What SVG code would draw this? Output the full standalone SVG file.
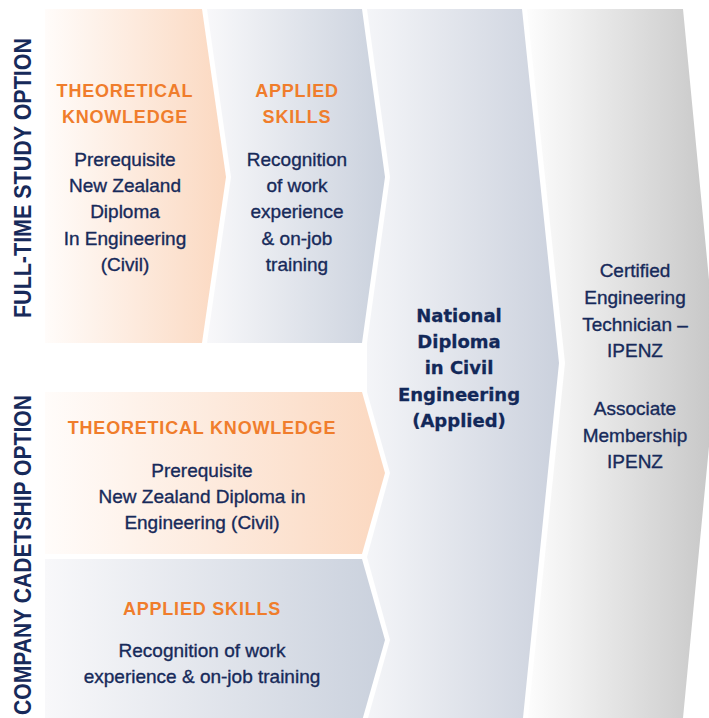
<svg xmlns="http://www.w3.org/2000/svg" width="709" height="718" viewBox="0 0 709 718">
<defs>
<linearGradient id="gOr" x1="0" y1="0" x2="1" y2="0"><stop offset="0" stop-color="#fffcfa"/><stop offset="1" stop-color="#fbd8c0"/></linearGradient>
<linearGradient id="gBl" x1="0" y1="0" x2="1" y2="0"><stop offset="0" stop-color="#f8f8fa"/><stop offset="1" stop-color="#cad1dd"/></linearGradient>
<linearGradient id="gNat" x1="0" y1="0" x2="1" y2="0"><stop offset="0" stop-color="#f4f5f8"/><stop offset="1" stop-color="#cbd1dd"/></linearGradient>
<linearGradient id="gGr" x1="0" y1="0" x2="1" y2="0"><stop offset="0" stop-color="#fdfdfd"/><stop offset="1" stop-color="#c6c6c6"/></linearGradient>
<style>
.h{font-family:"Liberation Sans",Arial,sans-serif;font-weight:bold;font-size:18px;letter-spacing:0.8px;fill:#f07d2c;text-anchor:middle}
.b{font-family:"Liberation Sans",Arial,sans-serif;font-size:19px;fill:#172a5a;stroke:#172a5a;stroke-width:0.35px;text-anchor:middle}
.nat{font-family:"DejaVu Sans",sans-serif;font-weight:bold;font-size:18px;fill:#122859;stroke:#122859;stroke-width:0.3px;text-anchor:middle}
.v{font-family:"Liberation Sans",Arial,sans-serif;font-weight:bold;font-size:24px;fill:#172a5a}
</style>
</defs>
<rect width="709" height="718" fill="#ffffff"/>
<g id="certified">
<polygon points="527,9 683,9 717,363 683,718 528,718 565,363" fill="url(#gGr)"/>
<text class="b"><tspan x="635" y="277">Certified</tspan><tspan x="635" y="304">Engineering</tspan><tspan x="635" y="331">Technician –</tspan><tspan x="635" y="357">IPENZ</tspan><tspan x="635" y="415">Associate</tspan><tspan x="635" y="442">Membership</tspan><tspan x="635" y="468">IPENZ</tspan></text>
</g>
<g id="national">
<polygon points="367,9 522,9 559,363 523,718 368,718 390,640 367,557 390,473 367,392 367,343 390,177" fill="url(#gNat)"/>
<text class="nat"><tspan x="459" y="322">National</tspan><tspan x="459" y="348">Diploma</tspan><tspan x="459" y="374">in Civil</tspan><tspan x="459" y="401">Engineering</tspan><tspan x="459" y="427">(Applied)</tspan></text>
</g>
<g id="ft-theory">
<polygon points="45,9 202,9 226,177 202,343 45,343" fill="url(#gOr)"/>
<text class="h"><tspan x="125" y="97">THEORETICAL</tspan><tspan x="125" y="123">KNOWLEDGE</tspan></text>
<text class="b"><tspan x="125" y="166">Prerequisite</tspan><tspan x="125" y="192">New Zealand</tspan><tspan x="125" y="218">Diploma</tspan><tspan x="125" y="245">In Engineering</tspan><tspan x="125" y="271">(Civil)</tspan></text>
</g>
<g id="ft-applied">
<polygon points="207,9 362,9 385,177 362,343 207,343 231,177" fill="url(#gBl)"/>
<text class="h"><tspan x="297" y="97">APPLIED</tspan><tspan x="297" y="123">SKILLS</tspan></text>
<text class="b"><tspan x="297" y="166">Recognition</tspan><tspan x="297" y="192">of work</tspan><tspan x="297" y="218">experience</tspan><tspan x="297" y="245">&amp; on-job</tspan><tspan x="297" y="271">training</tspan></text>
</g>
<g id="cc-theory">
<polygon points="45,392 362,392 385,473 362,554 45,554" fill="url(#gOr)"/>
<text class="h" x="202" y="434">THEORETICAL KNOWLEDGE</text>
<text class="b"><tspan x="202" y="477">Prerequisite</tspan><tspan x="202" y="503">New Zealand Diploma in</tspan><tspan x="202" y="529">Engineering (Civil)</tspan></text>
</g>
<g id="cc-applied">
<polygon points="45,559 362,559 385,640 362,721 45,721" fill="url(#gBl)"/>
<text class="h" x="202" y="615">APPLIED SKILLS</text>
<text class="b"><tspan x="202" y="657">Recognition of work</tspan><tspan x="202" y="683">experience &amp; on-job training</tspan></text>
</g>
<g id="labels">
<text class="v" transform="translate(31,178) rotate(-90)" text-anchor="middle" textLength="280" lengthAdjust="spacingAndGlyphs">FULL-TIME STUDY OPTION</text>
<text class="v" transform="translate(31,395) rotate(-90)" text-anchor="end" textLength="320" lengthAdjust="spacingAndGlyphs">COMPANY CADETSHIP OPTION</text>
</g>
<g id="connectors"></g>
</svg>
